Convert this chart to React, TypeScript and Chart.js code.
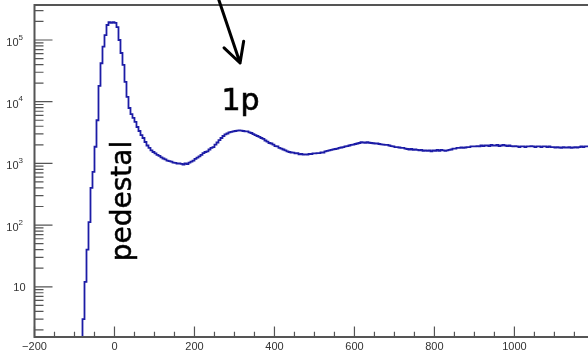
import { useEffect, useRef } from "react";
import { Chart, registerables } from "chart.js";

Chart.register(...registerables);

// Histogram binning: lower edge of the first bin and the bin width (ADC units)
const BIN_START = -80;
const BIN_WIDTH = 5;

// Entries per bin
const counts = [
  3, 3, 12, 40, 112, 400, 726, 1860, 5000, 18000,
  42000, 78000, 120000, 175000, 194000, 190000, 194000, 190000, 162000, 100000,
  61500, 39400, 20900, 12000, 7900, 6300, 5450, 4690, 3890, 3350,
  2880, 2580, 2220, 1950, 1780, 1620, 1530, 1450, 1370, 1320,
  1250, 1200, 1160, 1110, 1090, 1070, 1030, 1020, 990, 1000,
  980, 960, 1000, 970, 1030, 1070, 1110, 1180, 1240, 1300,
  1370, 1470, 1530, 1560, 1680, 1780, 1840, 2020, 2180, 2390,
  2580, 2780, 2950, 3050, 3170, 3230, 3290, 3350, 3390, 3420,
  3390, 3350, 3290, 3290, 3170, 3110, 2990, 2880, 2780, 2680,
  2580, 2490, 2350, 2260, 2140, 2100, 2020, 1910, 1880, 1780,
  1740, 1680, 1620, 1560, 1530, 1500, 1490, 1450, 1470, 1400,
  1420, 1390, 1400, 1390, 1420, 1420, 1450, 1450, 1470, 1470,
  1500, 1500, 1560, 1590, 1620, 1650, 1690, 1710, 1740, 1780,
  1810, 1840, 1880, 1910, 1950, 1990, 2020, 2060, 2100, 2140,
  2200, 2180, 2160, 2200, 2160, 2140, 2120, 2100, 2100, 2060,
  2040, 2020, 1990, 1990, 1950, 1910, 1880, 1840, 1840, 1810,
  1780, 1780, 1740, 1710, 1680, 1710, 1650, 1680, 1650, 1620,
  1650, 1590, 1620, 1590, 1620, 1560, 1620, 1590, 1650, 1590,
  1650, 1620, 1590, 1620, 1650, 1680, 1740, 1740, 1780, 1780,
  1810, 1780, 1810, 1840, 1840, 1880, 1880, 1880, 1910, 1880,
  1950, 1910, 1950, 1950, 1910, 1990, 1950, 1950, 1990, 1910,
  1950, 1990, 1950, 1910, 1950, 1910, 1880, 1910, 1880, 1840,
  1880, 1880, 1840, 1880, 1880, 1910, 1880, 1840, 1880, 1880,
  1840, 1880, 1880, 1840, 1880, 1840, 1840, 1810, 1840, 1810,
  1780, 1840, 1810, 1810, 1840, 1780, 1810, 1840, 1810, 1840,
  1880, 1840, 1880,
];

// Axis ranges
const X_MIN = -200;
const X_MAX = 1184;
const Y_MIN = 1.535;
const Y_MAX = 3.69e5;

// Axis tick values
const xMajorTicks = [-200, 0, 200, 400, 600, 800, 1000];
const X_MINOR_STEP = 50;
const yDecadeTicks = [10, 100, 1000, 10000, 100000];
const yDecadeExponents = ["", "2", "3", "4", "5"];

// Annotations (data coordinates)
const peakLabel = { text: "1p", x: 315, y: 7300 };
const pedestalLabel = { text: "pedestal", x: 41, y: 245 };
const arrowTail = { x: 261, y: 4.45e5 };
const arrowTip = { x: 314, y: 4.24e4 };

const LINE_COLOR = "#1c1ca6";
const AXIS_COLOR = "#555555";
const LABEL_COLOR = "#333333";
const TICK_FONT = "'Liberation Sans', Arial, Helvetica, sans-serif";
const NOTE_FONT = "'DejaVu Sans', 'Noto Sans', sans-serif";

function histogramPoints() {
  const pts: { x: number; y: number }[] = [{ x: BIN_START, y: Y_MIN }];
  counts.forEach((c, i) => pts.push({ x: BIN_START + i * BIN_WIDTH, y: c }));
  pts.push({
    x: BIN_START + counts.length * BIN_WIDTH,
    y: counts[counts.length - 1],
  });
  return pts;
}

const frameAndAxes = {
  id: "frameAndAxes",
  afterDraw(chart: any) {
    const { ctx, chartArea, scales } = chart;
    const xs = scales.x;
    const ys = scales.y;
    const { left, right, top, bottom } = chartArea;
    ctx.save();

    // frame
    ctx.strokeStyle = AXIS_COLOR;
    ctx.lineWidth = 2;
    ctx.beginPath();
    ctx.moveTo(left, bottom);
    ctx.lineTo(left, top);
    ctx.lineTo(right + 2, top);
    ctx.moveTo(left - 1, bottom);
    ctx.lineTo(right + 2, bottom);
    ctx.stroke();

    // x ticks (inward)
    ctx.lineWidth = 1.2;
    ctx.beginPath();
    for (let v = X_MIN; v <= X_MAX; v += X_MINOR_STEP) {
      const px = xs.getPixelForValue(v);
      const len = v % 200 === 0 ? 10.5 : 5.3;
      ctx.moveTo(px, bottom);
      ctx.lineTo(px, bottom - len);
    }
    // y ticks (inward)
    for (let d = 0; d <= 5; d++) {
      for (let m = 1; m <= 9; m++) {
        const v = m * Math.pow(10, d);
        if (v < Y_MIN || v > Y_MAX) continue;
        const py = ys.getPixelForValue(v);
        const len = m === 1 ? 18 : 9;
        ctx.moveTo(left, py);
        ctx.lineTo(left + len, py);
      }
    }
    ctx.stroke();

    // x labels
    ctx.fillStyle = LABEL_COLOR;
    ctx.font = `11px ${TICK_FONT}`;
    ctx.textAlign = "center";
    ctx.textBaseline = "alphabetic";
    xMajorTicks.forEach((v) => {
      const txt = v < 0 ? `\u2212${Math.abs(v)}` : String(v);
      ctx.fillText(txt, xs.getPixelForValue(v), 350);
    });

    // y labels (10, 10^2 ... 10^5)
    yDecadeTicks.forEach((v, i) => {
      const py = ys.getPixelForValue(v);
      const exp = yDecadeExponents[i];
      ctx.textAlign = "right";
      if (!exp) {
        ctx.font = `11px ${TICK_FONT}`;
        ctx.fillText("10", 25.5, py + 4);
        return;
      }
      ctx.font = `8px ${TICK_FONT}`;
      const ew = ctx.measureText(exp).width;
      ctx.fillText(exp, 23, py - 0.3);
      ctx.font = `11px ${TICK_FONT}`;
      ctx.fillText("10", 23 - ew, py + 6);
    });

    // annotations
    ctx.fillStyle = "#000000";
    ctx.strokeStyle = "#000000";
    ctx.lineWidth = 0.7;
    ctx.font = `30px ${NOTE_FONT}`;
    ctx.textAlign = "center";
    const px1 = xs.getPixelForValue(peakLabel.x);
    const py1 = ys.getPixelForValue(peakLabel.y);
    ctx.fillText(peakLabel.text, px1, py1);
    ctx.strokeText(peakLabel.text, px1, py1);

    ctx.save();
    ctx.translate(
      xs.getPixelForValue(pedestalLabel.x),
      ys.getPixelForValue(pedestalLabel.y)
    );
    ctx.rotate(-Math.PI / 2);
    ctx.font = `28px ${NOTE_FONT}`;
    ctx.textAlign = "center";
    ctx.lineWidth = 0.5;
    ctx.fillText(pedestalLabel.text, 0, 0);
    ctx.strokeText(pedestalLabel.text, 0, 0);
    ctx.restore();

    // arrow
    const tx = xs.getPixelForValue(arrowTail.x);
    const ty = ys.getPixelForValue(arrowTail.y);
    const hx = xs.getPixelForValue(arrowTip.x);
    const hy = ys.getPixelForValue(arrowTip.y);
    const ang = Math.atan2(ty - hy, tx - hx);
    const wing = 22;
    const spread = (28 * Math.PI) / 180;
    ctx.lineWidth = 3;
    ctx.lineCap = "round";
    ctx.lineJoin = "round";
    ctx.beginPath();
    ctx.moveTo(tx, ty);
    ctx.lineTo(hx, hy);
    ctx.moveTo(hx + wing * Math.cos(ang - spread), hy + wing * Math.sin(ang - spread));
    ctx.lineTo(hx, hy);
    ctx.lineTo(hx + wing * Math.cos(ang + spread), hy + wing * Math.sin(ang + spread));
    ctx.stroke();

    ctx.restore();
  },
};

export default function App() {
  const canvasRef = useRef<HTMLCanvasElement | null>(null);

  useEffect(() => {
    if (!canvasRef.current) return;
    const chart = new Chart(canvasRef.current, {
      type: "line",
      data: {
        datasets: [
          {
            data: histogramPoints(),
            stepped: "after",
            borderColor: LINE_COLOR,
            borderWidth: 1.8,
            pointRadius: 0,
            fill: false,
            tension: 0,
          },
        ],
      },
      options: {
        animation: false,
        responsive: true,
        maintainAspectRatio: false,
        layout: { padding: { top: 5, right: 0, bottom: 0, left: 0 } },
        plugins: {
          legend: { display: false },
          tooltip: { enabled: false },
        },
        scales: {
          x: {
            type: "linear",
            min: X_MIN,
            max: X_MAX,
            grid: { display: false, drawTicks: false },
            border: { display: false },
            ticks: { display: false },
            afterFit: (s: any) => {
              s.height = 17;
            },
          },
          y: {
            type: "logarithmic",
            min: Y_MIN,
            max: Y_MAX,
            grid: { display: false, drawTicks: false },
            border: { display: false },
            ticks: { display: false },
            afterFit: (s: any) => {
              s.width = 34.5;
            },
          },
        },
      },
      plugins: [frameAndAxes],
    });
    return () => chart.destroy();
  }, []);

  return (
    <div
      style={{
        position: "fixed",
        left: 0,
        top: 0,
        width: 588,
        height: 354,
        background: "#ffffff",
      }}
    >
      <canvas ref={canvasRef} />
    </div>
  );
}
